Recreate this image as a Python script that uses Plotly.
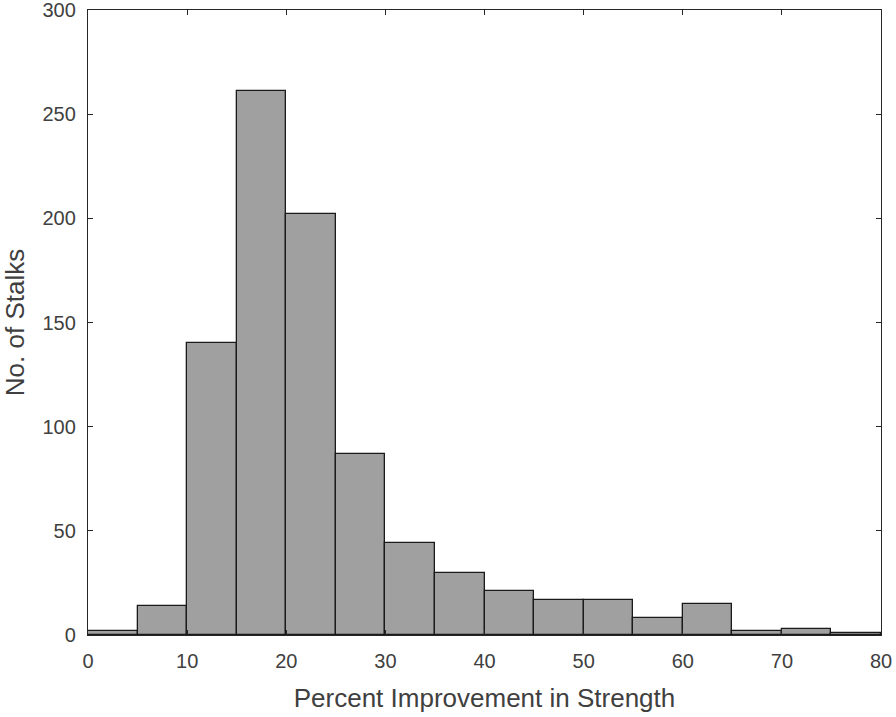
import plotly.graph_objects as go

bin_edges = [0, 5, 10, 15, 20, 25, 30, 35, 40, 45, 50, 55, 60, 65, 70, 75, 80]
counts = [2, 14, 140, 261, 202, 87, 44, 30, 21, 17, 17, 8, 15, 2, 3, 1]
x_ticks = [0, 10, 20, 30, 40, 50, 60, 70, 80]
y_ticks = [0, 50, 100, 150, 200, 250, 300]

centers = [(bin_edges[i] + bin_edges[i + 1]) / 2 for i in range(len(counts))]
widths = [bin_edges[i + 1] - bin_edges[i] for i in range(len(counts))]

fig = go.Figure(go.Bar(
    x=centers, y=counts, width=widths,
    marker=dict(color="#a0a0a0", line=dict(color="#1a1a1a", width=1.3)),
))

font = "Liberation Sans, Arial, sans-serif"
axis_common = dict(
    showline=True, linecolor="#262626", linewidth=1.3, mirror="allticks",
    ticks="inside", ticklen=5, tickcolor="#262626", tickwidth=1.3,
    showgrid=False, zeroline=False, automargin=False,
    ticklabeloverflow="allow",
    tickfont=dict(family=font, size=20, color="#404040"),
)
fig.update_layout(
    width=896, height=717,
    margin=dict(l=88, r=15, t=10, b=82),
    plot_bgcolor="white", paper_bgcolor="white",
    showlegend=False, bargap=0,
    xaxis=dict(range=[0, 80], tickvals=x_ticks, ticklabelstandoff=8,
               title=dict(text="Percent Improvement in Strength", standoff=17,
                          font=dict(family=font, size=26, color="#404040")),
               **axis_common),
    yaxis=dict(range=[0, 300], tickvals=y_ticks, ticklabelstandoff=7,
               title=dict(text="No. of Stalks", standoff=19,
                          font=dict(family=font, size=26, color="#404040")),
               **axis_common),
)
fig.write_html(
    "out.html",
    config={"displayModeBar": False},
    post_script="document.body.style.margin='0';document.body.style.padding='0';",
)
